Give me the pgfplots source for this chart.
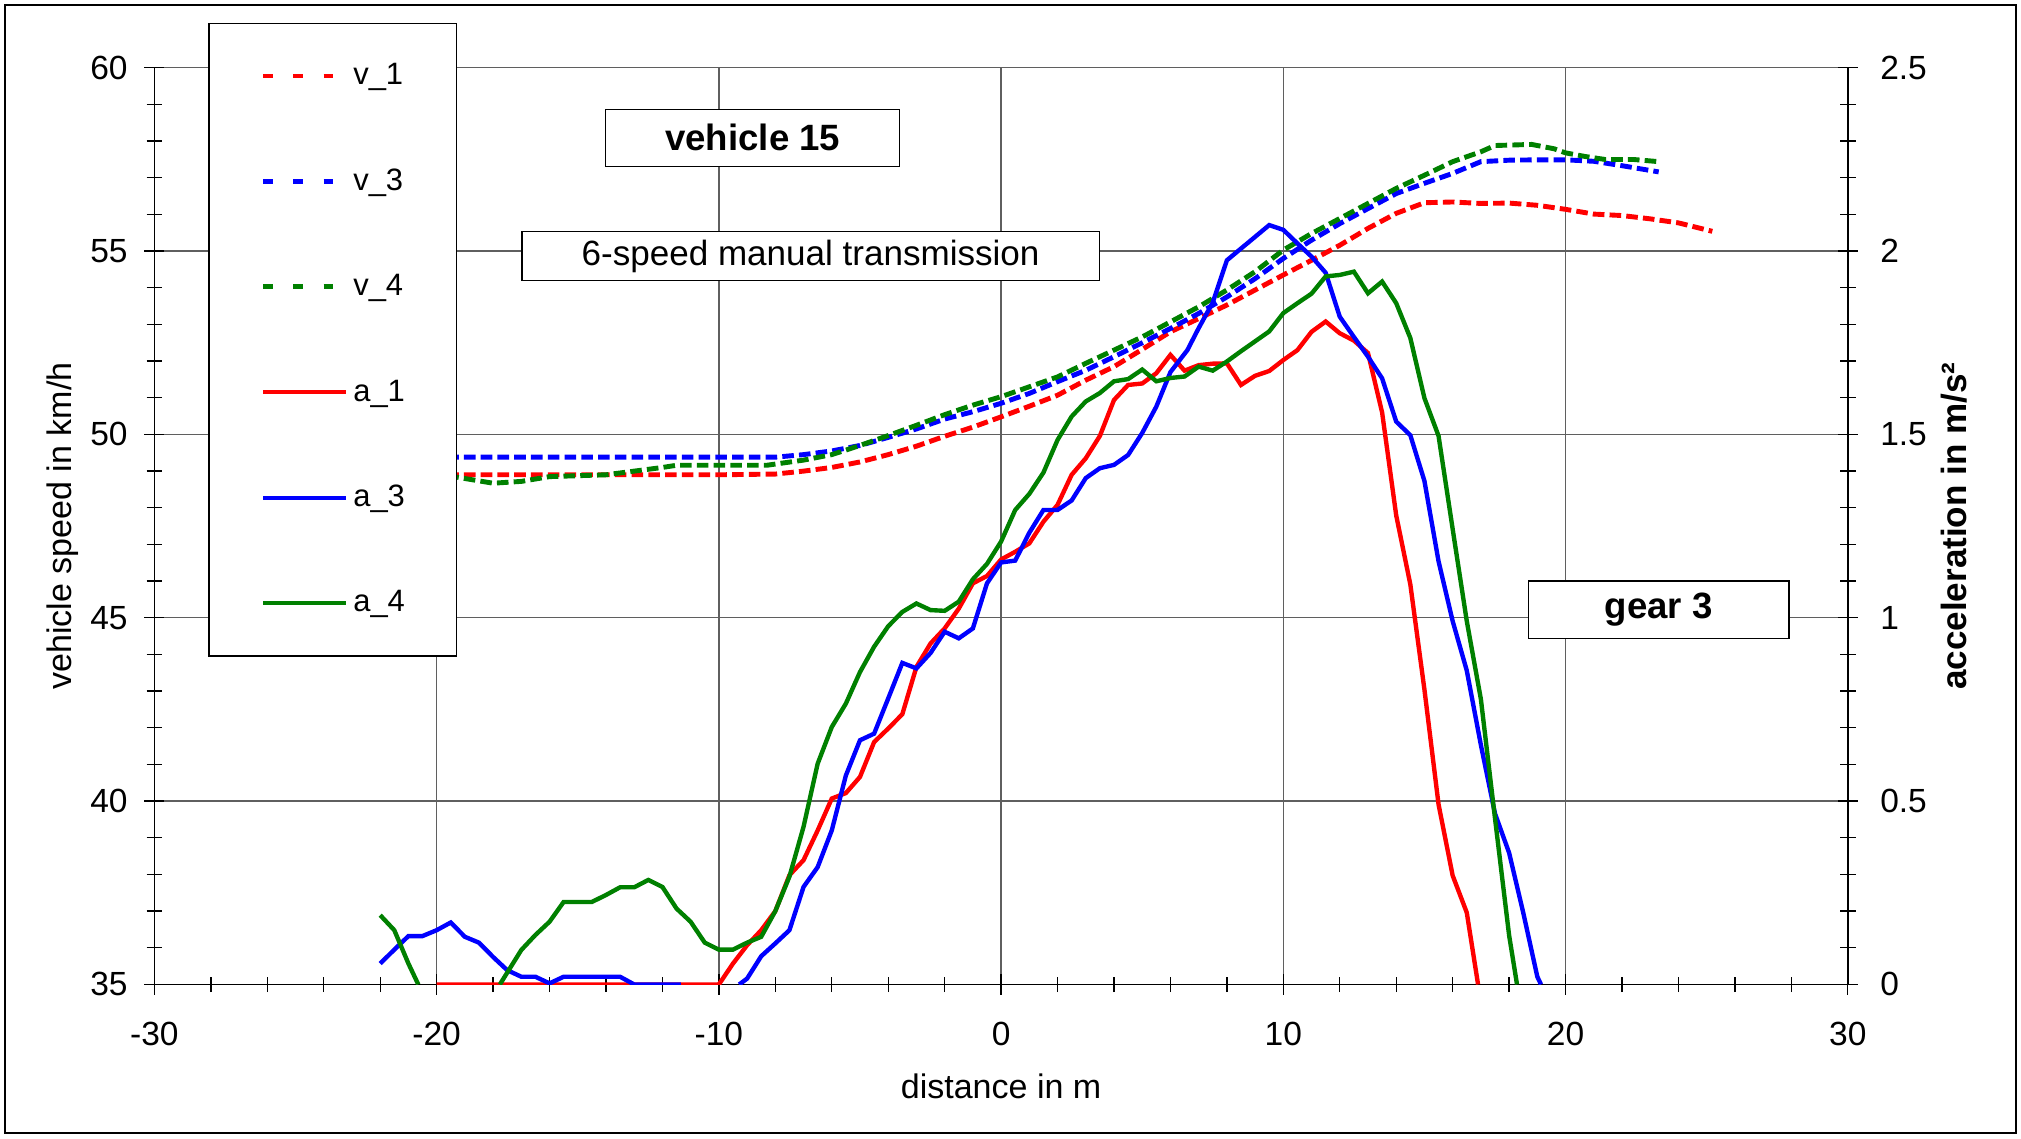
\documentclass[border=0pt]{standalone}
\usepackage{pgfplots}
\pgfplotsset{compat=1.18}
\usepackage{fontspec}
\setmainfont{Liberation Sans}

\definecolor{xlgreen}{RGB}{0,128,0}
\definecolor{xlred}{RGB}{255,0,0}
\definecolor{xlblue}{RGB}{0,0,255}
\definecolor{gridgray}{RGB}{95,95,95}

\begin{document}
\begin{tikzpicture}
\path[use as bounding box] (-59.9pt,-59.6pt) rectangle (724.1pt,381.9pt);
\pgfplotsset{
 common/.style={at={(0pt,0pt)}, anchor=south west, scale only axis,
   width=656.9pt, height=355.6pt, xmin=-30, xmax=30,
   tick align=center, major tick length=7.8pt, minor tick length=6pt,
   tick style={black, line width=0.5pt},
   /pgf/number format/assume math mode=true,
   tick label style={font=\fontsize{13}{15}\selectfont},
   clip=true, unbounded coords=jump},
 vline/.style={line width=1.9pt, dash pattern=on 4.5pt off 2pt},
 aline/.style={line width=1.7pt},
}
% ---------------- speed axis ----------------
\begin{axis}[common, ymin=35, ymax=60,
  xtick={-30,-20,...,30}, ytick={35,40,...,60},
  minor x tick num=4, minor y tick num=4,
  axis x line*=bottom, axis y line*=left,
  axis line style={black, line width=0.6pt},
  grid=major, major grid style={gridgray, line width=0.5pt},
  xlabel={distance in m}, ylabel={vehicle speed in km/h},
  label style={font=\fontsize{13.2}{15}\selectfont},
  xlabel style={at={(axis description cs:0.5,-0.097)}, anchor=north, inner sep=0pt},
  ylabel style={at={(axis description cs:-0.0636,0.5)}, anchor=north, inner sep=0pt},
  xticklabel style={anchor=north, inner sep=0pt, yshift=-10.4pt},
  yticklabel style={anchor=east, inner sep=0pt, xshift=-6.3pt},
]
\addplot[vline, xlred] coordinates {
(-22,48.9) (-10,48.9) (-8,48.92) (-7,49.0) (-6,49.1) (-5,49.25) (-4,49.45) (-3,49.68)
(-2,49.95) (-1,50.2) (0,50.48) (1,50.77) (2,51.07) (3,51.48) (4,51.85) (5,52.32)
(6,52.8) (7,53.16) (8,53.53) (9,53.94) (10,54.35) (11,54.75) (12,55.16) (13,55.62)
(14,56.03) (15,56.32) (16,56.34) (17,56.3) (18,56.31) (19,56.25) (20,56.14) (21,56.01)
(22,55.97) (23,55.88) (24,55.77) (25.2,55.54)};
\addplot[vline, xlblue] coordinates {
(-22,49.38) (-8,49.38) (-7,49.45) (-6,49.55) (-5,49.7) (-4,49.92) (-3,50.15) (-2,50.42)
(-1,50.62) (0,50.85) (1,51.12) (2,51.44) (3,51.75) (4,52.12) (5,52.5) (6,52.89)
(7,53.3) (8,53.75) (9,54.25) (10,54.8) (11,55.3) (12,55.75) (13,56.16) (14,56.57)
(15,56.85) (16,57.12) (17,57.44) (18,57.48) (19,57.49) (20,57.49) (21,57.45) (22,57.33)
(23.3,57.16)};
\addplot[vline, xlgreen] coordinates {
(-22,48.85) (-19.4,48.85) (-18,48.67) (-17,48.72) (-16,48.85) (-14,48.9) (-12,49.1)
(-11.5,49.16) (-8.3,49.16) (-7,49.3) (-6,49.45) (-5,49.7) (-4,49.97) (-3,50.25)
(-2,50.54) (-1,50.8) (0,51.03) (1,51.3) (2,51.57) (3,51.94) (4,52.3) (5,52.66)
(6,53.07) (7,53.48) (8,53.94) (9,54.44) (10,55.03) (11,55.48) (12,55.89) (13,56.3)
(14,56.71) (15,57.07) (16,57.44) (17,57.71) (17.5,57.88) (18.8,57.91) (19.6,57.79)
(20,57.68) (20.7,57.58) (21.4,57.5) (22.4,57.5) (23.3,57.44)};
\end{axis}
% ---------------- acceleration axis ----------------
\begin{axis}[common, ymin=0, ymax=2.5,
  ytick={0,0.5,1,1.5,2,2.5}, minor y tick num=4,
  axis x line=none, axis y line*=right,
  axis line style={black, line width=0.6pt},
  ylabel={\bfseries acceleration in m/s²},
  label style={font=\fontsize{13.6}{15}\selectfont},
  ylabel style={at={(axis description cs:1.0547,0.5)}, anchor=north, inner sep=0pt},
  yticklabel style={anchor=west, inner sep=0pt, xshift=8.5pt},
  legend image code/.code={\draw[#1] (0pt,0pt) -- (32pt,0pt);},
  legend style={at={(axis description cs:0.0319,1.0494)}, anchor=north west,
    draw=black, line width=0.6pt, fill=white, inner xsep=20pt, inner ysep=0pt,
    row sep=0pt, column sep=2pt, font=\fontsize{12}{14}\selectfont,
    nodes={inner sep=0pt, minimum height=40.9pt}},
  legend cell align=left,
]
\addlegendimage{xlred, line width=1.9pt, dash pattern=on 3.8pt off 7.9pt}
\addlegendentry{v\_1}
\addlegendimage{xlblue, line width=1.9pt, dash pattern=on 3.8pt off 7.9pt}
\addlegendentry{v\_3}
\addlegendimage{xlgreen, line width=1.9pt, dash pattern=on 3.8pt off 7.9pt}
\addlegendentry{v\_4}
\addplot[aline, xlred] coordinates {
(-20,0) (-10,0) (-9.5,0.057) (-9,0.107) (-8.5,0.148) (-8,0.2) (-7.5,0.298) (-7,0.339)
(-6.5,0.42) (-6,0.507) (-5.5,0.522) (-5,0.566) (-4.5,0.661) (-4,0.698) (-3.5,0.737)
(-3,0.866) (-2.5,0.93) (-2,0.971) (-1.5,1.025) (-1,1.094) (-0.5,1.114) (0,1.159)
(0.5,1.18) (1,1.203) (1.5,1.262) (2,1.308) (2.5,1.39) (3,1.435) (3.5,1.496) (4,1.594)
(4.5,1.635) (5,1.639) (5.5,1.667) (6,1.717) (6.5,1.674) (7,1.689) (7.5,1.693) (8,1.694)
(8.5,1.635) (9,1.66) (9.5,1.673) (10,1.703) (10.5,1.73) (11,1.78) (11.5,1.808)
(12,1.776) (12.5,1.756) (13,1.722) (13.5,1.56) (14,1.279) (14.5,1.091) (15,0.804)
(15.5,0.491) (16,0.297) (16.5,0.196) (16.9,0)};
\addlegendentry{a\_1}
\addplot[aline, xlblue] coordinates {
(-22,0.057) (-21.5,0.095) (-21,0.132) (-20.5,0.132) (-20,0.148) (-19.5,0.169) (-19,0.13)
(-18.5,0.114) (-18,0.075) (-17.5,0.039) (-17,0.021) (-16.5,0.021) (-16,0.003)
(-15.5,0.021) (-13.5,0.021) (-13,0) (-11.35,0) (-10.3,nan) (-9.28,0) (-9,0.016)
(-8.5,0.077) (-8,0.112) (-7.5,0.148) (-7,0.266) (-6.5,0.32) (-6,0.42) (-5.5,0.57)
(-5,0.666) (-4.5,0.684) (-4,0.78) (-3.5,0.877) (-3,0.862) (-2.5,0.904) (-2,0.962)
(-1.5,0.944) (-1,0.971) (-0.5,1.094) (0,1.151) (0.5,1.156) (1,1.232) (1.5,1.294)
(2,1.294) (2.5,1.32) (3,1.381) (3.5,1.408) (4,1.417) (4.5,1.444) (5,1.504) (5.5,1.576)
(6,1.67) (6.6,1.73) (7,1.79) (7.5,1.86) (8,1.975) (8.5,2.007) (9,2.039) (9.5,2.071)
(10,2.058) (10.5,2.021) (11,1.985) (11.5,1.941) (12,1.821) (12.5,1.766) (13,1.712)
(13.5,1.653) (14,1.535) (14.5,1.498) (15,1.373) (15.5,1.154) (16,0.991) (16.5,0.856)
(17,0.653) (17.5,0.466) (18,0.359) (18.5,0.196) (19,0.021) (19.13,0)};
\addlegendentry{a\_3}
\addplot[aline, xlgreen] coordinates {
(-22,0.189) (-21.5,0.148) (-21,0.057) (-20.65,0) (-19,nan) (-17.76,0) (-17,0.094)
(-16.5,0.135) (-16,0.171) (-15.5,0.225) (-14.5,0.225) (-14,0.244) (-13.5,0.265)
(-13,0.265) (-12.5,0.285) (-12,0.266) (-11.5,0.207) (-11,0.171) (-10.5,0.114)
(-10,0.095) (-9.5,0.095) (-9,0.114) (-8.5,0.13) (-8,0.2) (-7.5,0.294) (-7,0.43)
(-6.5,0.602) (-6,0.702) (-5.5,0.766) (-5,0.852) (-4.5,0.921) (-4,0.977) (-3.5,1.016)
(-3,1.039) (-2.5,1.021) (-2,1.019) (-1.5,1.044) (-1,1.105) (-0.5,1.147) (0,1.208)
(0.5,1.294) (1,1.338) (1.5,1.396) (2,1.485) (2.5,1.549) (3,1.59) (3.5,1.613) (4,1.645)
(4.5,1.651) (5,1.677) (5.5,1.645) (6,1.654) (6.5,1.658) (7,1.685) (7.5,1.674) (8,1.699)
(8.5,1.727) (9,1.754) (9.5,1.781) (10,1.831) (10.5,1.858) (11,1.884) (11.5,1.931)
(12,1.935) (12.5,1.944) (13,1.885) (13.5,1.917) (14,1.858) (14.5,1.763) (15,1.599)
(15.5,1.496) (16,1.242) (16.5,0.991) (17,0.778) (17.5,0.453) (18,0.134) (18.28,0)};
\addlegendentry{a\_4}
\node[draw=black, line width=0.5pt, fill=white, inner sep=0pt, minimum width=114pt,
  minimum height=22.2pt, font=\fontsize{14.2}{16}\selectfont\bfseries]
  at (axis cs:-8.80,2.309) {vehicle 15};
\node[draw=black, line width=0.5pt, fill=white, inner sep=0pt, minimum width=224pt,
  minimum height=19pt, font=\fontsize{13.6}{15}\selectfont]
  at (axis cs:-6.75,1.986) {6-speed manual transmission};
\node[draw=black, line width=0.5pt, fill=white, inner sep=0pt, minimum width=101pt,
  minimum height=22.2pt, font=\fontsize{14.2}{16}\selectfont\bfseries]
  at (axis cs:23.30,1.022) {gear 3};
\end{axis}
\draw[black, line width=1pt] (-57.9pt,-57.6pt) rectangle (722.1pt,379.9pt);
\end{tikzpicture}
\end{document}
